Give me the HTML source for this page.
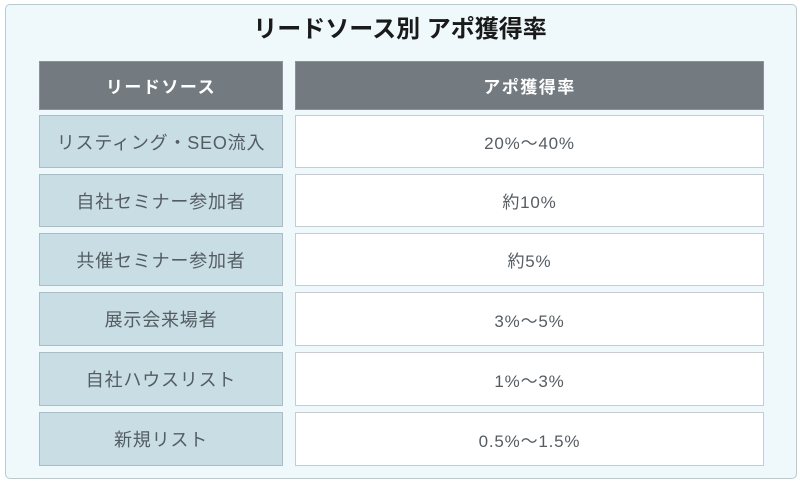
<!DOCTYPE html>
<html><head><meta charset="utf-8"><style>
body{margin:0;width:800px;height:483px;background:#fff;font-family:"Liberation Sans","Noto Sans CJK JP",sans-serif;}
.box{position:absolute;left:5px;top:4px;width:790px;height:473px;background:#eff8fb;border:1px solid #b7cbd2;border-radius:5px;}
.t{position:absolute;left:0;top:9px;width:800px;text-align:center;font-size:24px;font-weight:bold;color:#1a1a1a;}
.c{position:absolute;display:flex;align-items:center;justify-content:center;box-sizing:border-box;font-size:17px;letter-spacing:0.8px;color:#555c62;}
.h{background:#737b80;color:#fff;font-weight:bold;font-size:17px;letter-spacing:1.5px;border:1px solid #8a9297;}
.l{background:#c8dde4;border:1px solid #a8bec6;font-size:18px;}
.r{background:#fff;border:1px solid #c6ccd4;}
</style></head><body>
<div class="box"></div>
<div class="t">リードソース別 アポ獲得率</div>
<div class="c h" style="left:39px;top:61px;width:244px;height:49px">リードソース</div>
<div class="c h" style="left:295px;top:61px;width:469px;height:49px">アポ獲得率</div>
<div class="c l" style="left:39px;top:115px;width:244px;height:53px">リスティング・SEO流入</div>
<div class="c r" style="left:295px;top:115px;width:469px;height:53px">20%〜40%</div>
<div class="c l" style="left:39px;top:174px;width:244px;height:53px">自社セミナー参加者</div>
<div class="c r" style="left:295px;top:174px;width:469px;height:53px">約10%</div>
<div class="c l" style="left:39px;top:233px;width:244px;height:53px">共催セミナー参加者</div>
<div class="c r" style="left:295px;top:233px;width:469px;height:53px">約5%</div>
<div class="c l" style="left:39px;top:292px;width:244px;height:54px">展示会来場者</div>
<div class="c r" style="left:295px;top:292px;width:469px;height:54px">3%〜5%</div>
<div class="c l" style="left:39px;top:352px;width:244px;height:54px">自社ハウスリスト</div>
<div class="c r" style="left:295px;top:352px;width:469px;height:54px">1%〜3%</div>
<div class="c l" style="left:39px;top:412px;width:244px;height:54px">新規リスト</div>
<div class="c r" style="left:295px;top:412px;width:469px;height:54px">0.5%〜1.5%</div>
</body></html>
